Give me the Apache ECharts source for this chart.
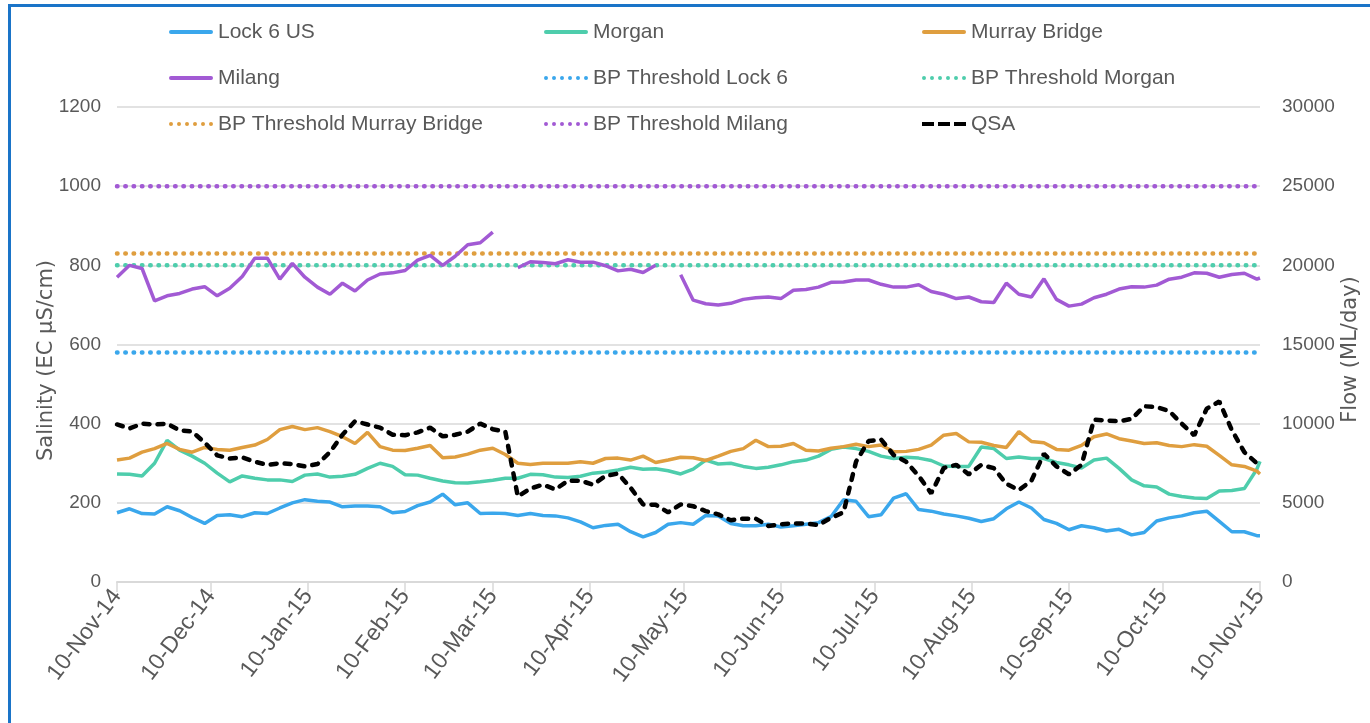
<!DOCTYPE html>
<html lang="en">
<head>
    <meta charset="UTF-8">
    <title>Salinity and flow</title>
    <script src="https://cdn.jsdelivr.net/npm/echarts@6.0.0/dist/echarts.min.js"></script>
    <style>
        html, body { margin: 0; padding: 0; background: #ffffff; }
        #frame { position: absolute; left: 8px; top: 4px; width: 1380px; height: 740px; border: 3px solid #1a74c8; box-sizing: border-box; }
        #main { position: absolute; left: 0; top: 0; width: 1370px; height: 723px; }
    </style>
</head>
<body>
<div id="frame"></div>
<div id="main"></div>

<script type="text/javascript">
    // sample days, counted from 10-Nov-14
    var sampleDays = [0, 4, 8, 12, 16, 20, 24, 28, 32, 36, 40, 44, 48, 52, 56, 60, 64, 68, 72, 76,
        80, 84, 88, 92, 96, 100, 104, 108, 112, 116, 120, 124, 128, 132, 136, 140, 144, 148, 152, 156,
        160, 164, 168, 172, 176, 180, 184, 188, 192, 196, 200, 204, 208, 212, 216, 220, 224, 228, 232, 236,
        240, 244, 248, 252, 256, 260, 264, 268, 272, 276, 280, 284, 288, 292, 296, 300, 304, 308, 312, 316,
        320, 324, 328, 332, 336, 340, 344, 348, 352, 356, 360, 364, 365];

    var lock6 = [175, 185, 173, 172, 190, 180, 163, 148, 168, 170, 165, 175, 173, 187, 200, 208, 204, 202, 190, 192,
        192, 190, 175, 178, 193, 202, 222, 195, 200, 173, 174,
        173, 168, 173, 168, 167, 162, 152, 137, 143, 146, 127, 114, 125, 146, 150, 146, 168, 167, 148, 142,
        142, 146, 139, 142, 146, 150, 165, 208, 204, 165, 170,
        212, 223, 183, 179, 172, 167, 161, 153, 160, 185, 202, 187, 158, 148, 132, 142, 137, 129, 133, 119,
        125, 154, 162, 167, 175, 179, 153, 127, 127, 117, 117];

    var morgan = [273, 272, 268, 300, 358, 333, 318, 300, 275, 253, 268, 262, 258, 258, 254, 270, 273, 265, 267, 272,
        287, 300, 292, 271, 270, 262, 255, 251, 250, 253, 257,
        262, 262, 272, 271, 265, 264, 267, 275, 278, 283, 290, 285, 286, 281, 273, 285, 308, 298, 300, 292,
        287, 290, 296, 304, 308, 318, 335, 341, 337, 330, 318,
        312, 315, 313, 307, 293, 292, 292, 341, 337, 312, 316, 312, 312, 302, 296, 288, 308, 313, 287, 258,
        243, 240, 222, 216, 212, 211, 230, 231, 236, 285, 305];

    var murrayBridge = [308, 313, 328, 337, 350, 335, 328, 340, 335, 333, 340, 346, 360, 385, 393, 385, 390, 380, 367, 350,
        378, 342, 333, 332, 338, 345, 314, 316, 323, 333, 338,
        322, 300, 297, 300, 300, 300, 304, 300, 312, 313, 308, 318, 302, 308, 315, 314, 307, 318, 330, 337,
        358, 342, 343, 350, 333, 331, 338, 342, 348, 342, 346,
        329, 330, 335, 346, 371, 375, 354, 353, 345, 340, 380, 355, 352, 335, 333, 345, 367, 374, 362, 356,
        350, 352, 345, 342, 347, 343, 320, 296, 292, 280, 273];

    var milang = [770, 800, 792, 710, 723, 729, 740, 746, 723, 742, 772, 818, 818, 765, 805, 770, 745, 727, 755, 735,
        763, 778, 781, 787, 813, 825, 800, 823, 852, 857, 884,
        null, 794, 809, 807, 804, 814, 808, 808, 799, 786, 790, 782, 800, null, 776, 712, 703, 700, 704, 714,
        718, 720, 716, 737, 739, 745, 757, 758, 763, 763, 752,
        745, 745, 751, 734, 727, 716, 720, 708, 706, 755, 727, 720, 766, 714, 697, 702, 718, 727, 740, 746,
        745, 750, 765, 770, 781, 780, 770, 777, 780, 765, 768];

    // QSA flow, ML/day (right axis)
    var qsa = [9950, 9700, 10000, 9950, 10000, 9580, 9500, 8800, 8000, 7800, 7870, 7600, 7400, 7500, 7450, 7300, 7450, 8200, 9300, 10150,
        9950, 9750, 9300, 9270, 9450, 9750, 9200, 9300, 9500, 10000, 9650,
        9500, 5400, 5900, 6150, 5850, 6400, 6400, 6150, 6700, 6850, 5950, 4900, 4880, 4400, 4900, 4790, 4480, 4270, 3900, 4000,
        4000, 3540, 3650, 3700, 3700, 3600, 4050, 4400, 7600, 8900, 9000,
        8020, 7600, 6700, 5600, 7200, 7400, 6800, 7400, 7190, 6200, 5800, 6400, 8100, 7300, 6800, 7400, 10250, 10200, 10150, 10300,
        11100, 11050, 10800, 10000, 9270, 10950, 11400, 9600, 8200, 7500, 7800];

    var thresholdNames = ['BP Threshold Lock 6', 'BP Threshold Morgan', 'BP Threshold Murray Bridge', 'BP Threshold Milang'];
    var thresholdValues = [580, 800, 830, 1000];

    // tick positions: the 10th of every month, as day offsets from 10-Nov-14
    var tickDays = [0, 30, 61, 92, 120, 151, 181, 212, 242, 273, 304, 334, 365];
    var tickLabels = ['10-Nov-14', '10-Dec-14', '10-Jan-15', '10-Feb-15', '10-Mar-15', '10-Apr-15', '10-May-15',
        '10-Jun-15', '10-Jul-15', '10-Aug-15', '10-Sep-15', '10-Oct-15', '10-Nov-15'];

    var colors = {
        lock6: '#3aa7ec',
        morgan: '#4ecdac',
        murray: '#df9e3f',
        milang: '#a25ad4',
        qsa: '#000000'
    };
    var thresholdColors = [colors.lock6, colors.morgan, colors.murray, colors.milang];

    var font = '"Liberation Sans", Arial, sans-serif';
    var grey = '#595959';

    // legend icons: solid bar, row of dots, three dashes
    var iconSolid = 'path://M2,0h41a2,2 0 0 1 0,4h-41a2,2 0 0 1 0,-4z';
    var iconDots = 'path://M0,2a2,2 0 1 0 4,0a2,2 0 1 0 -4,0zM8,2a2,2 0 1 0 4,0a2,2 0 1 0 -4,0zM16,2a2,2 0 1 0 4,0a2,2 0 1 0 -4,0z' +
        'M24,2a2,2 0 1 0 4,0a2,2 0 1 0 -4,0zM32,2a2,2 0 1 0 4,0a2,2 0 1 0 -4,0zM40,2a2,2 0 1 0 4,0a2,2 0 1 0 -4,0z';
    var iconDash = 'path://M0,0h12v4h-12zM16,0h12v4h-12zM32,0h12v4h-12z';

    function toPoints(vals) {
        return sampleDays.map(function (d, i) { return [d, vals[i]]; });
    }

    function dataLine(name, vals, color, axisIndex) {
        return {
            name: name,
            type: 'line',
            yAxisIndex: axisIndex || 0,
            symbol: 'none',
            data: toPoints(vals),
            lineStyle: { color: color, width: 3.5 },
            itemStyle: { color: color }
        };
    }

    var series = [];
    thresholdNames.forEach(function (name, i) {
        series.push({
            name: name,
            type: 'line',
            symbol: 'none',
            data: [[0, thresholdValues[i]], [365, thresholdValues[i]]],
            lineStyle: { color: thresholdColors[i], width: 4.5, type: [0.5, 7.8], cap: 'round' },
            itemStyle: { color: thresholdColors[i] }
        });
    });
    series.push(dataLine('Lock 6 US', lock6, colors.lock6));
    series.push(dataLine('Morgan', morgan, colors.morgan));
    series.push(dataLine('Murray Bridge', murrayBridge, colors.murray));
    series.push(dataLine('Milang', milang, colors.milang));
    var qsaSeries = dataLine('QSA', qsa, colors.qsa, 1);
    qsaSeries.lineStyle = { color: colors.qsa, width: 4.5, type: [6, 8], cap: 'round' };
    series.push(qsaSeries);

    function legendItem(name) {
        var icon = iconSolid;
        if (name.indexOf('BP Threshold') === 0) icon = iconDots;
        if (name === 'QSA') icon = iconDash;
        return { name: name, icon: icon };
    }

    function legendCol(left, names) {
        return {
            orient: 'vertical',
            left: left,
            top: 15,
            itemWidth: 44,
            itemHeight: 4,
            itemGap: 22,
            textStyle: { fontFamily: font, fontSize: 21, color: grey, lineHeight: 24 },
            data: names.map(legendItem)
        };
    }

    var myChart = echarts.init(document.getElementById('main'));

    var option = {
        animation: false,
        backgroundColor: 'transparent',
        legend: [
            legendCol(164, ['Lock 6 US', 'Milang', 'BP Threshold Murray Bridge']),
            legendCol(539, ['Morgan', 'BP Threshold Lock 6', 'BP Threshold Milang']),
            legendCol(917, ['Murray Bridge', 'BP Threshold Morgan', 'QSA'])
        ],
        grid: { left: 117, right: 110, top: 107, bottom: 141, containLabel: false },
        xAxis: {
            type: 'value',
            min: 0,
            max: 365,
            axisLine: { lineStyle: { color: '#d9d9d9', width: 2 } },
            axisTick: { show: true, customValues: tickDays, length: 10, lineStyle: { color: '#d9d9d9', width: 1.5 } },
            splitLine: { show: false },
            axisLabel: {
                customValues: tickDays,
                rotate: 53,
                margin: 10,
                fontFamily: font,
                fontSize: 23,
                color: grey,
                formatter: function (v) {
                    var i = tickDays.indexOf(v);
                    return i >= 0 ? tickLabels[i] : '';
                }
            }
        },
        yAxis: [
            {
                type: 'value',
                min: 0,
                max: 1200,
                interval: 200,
                name: 'Salinity (EC µS/cm)',
                nameLocation: 'middle',
                nameRotate: 90,
                nameGap: 60,
                nameMoveOverlap: false,
                nameTextStyle: { fontFamily: 'DejaVu Sans', fontSize: 21, color: grey, padding: [0, 32, 0, 0] },
                axisLine: { show: false },
                axisTick: { show: false },
                axisLabel: { margin: 16, fontFamily: font, fontSize: 19, color: grey, formatter: function (v) { return String(v); } },
                splitLine: { lineStyle: { color: '#d9d9d9', width: 1.5 } }
            },
            {
                type: 'value',
                position: 'right',
                min: 0,
                max: 30000,
                interval: 5000,
                name: 'Flow (ML/day)',
                nameLocation: 'middle',
                nameRotate: 90,
                nameGap: 80,
                nameMoveOverlap: false,
                nameTextStyle: { fontFamily: 'DejaVu Sans', fontSize: 21, color: grey, padding: [0, 10, 0, 0] },
                axisLine: { show: false },
                axisTick: { show: false },
                axisLabel: { margin: 22, fontFamily: font, fontSize: 19, color: grey, formatter: function (v) { return String(v); } },
                splitLine: { show: false }
            }
        ],
        series: series
    };

    myChart.setOption(option);
</script>
</body>
</html>
